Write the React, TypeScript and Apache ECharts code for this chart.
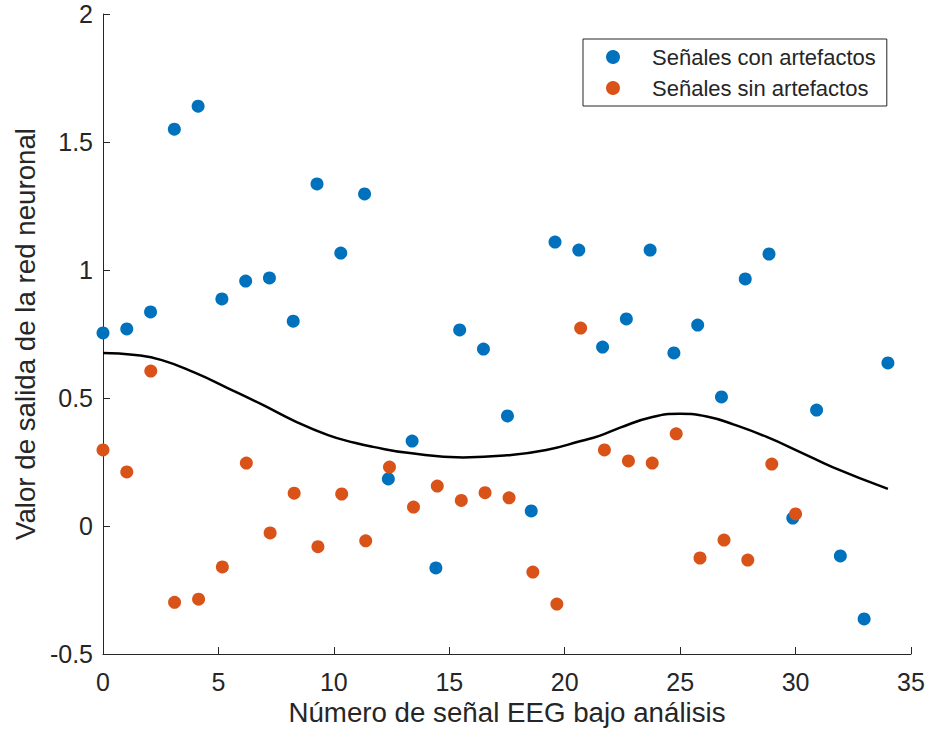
import React, { useEffect, useRef } from "react";
import * as echarts from "echarts";

const seriesNames = ["Señales con artefactos", "Señales sin artefactos"];

const blueX = [0, 1.03, 2.06, 3.09, 4.12, 5.15, 6.18, 7.21, 8.24, 9.27, 10.3, 11.33, 12.36, 13.39, 14.42, 15.45, 16.48, 17.52, 18.55, 19.58, 20.61, 21.64, 22.67, 23.7, 24.73, 25.76, 26.79, 27.82, 28.85, 29.88, 30.91, 31.94, 32.97, 34];
const blueY = [0.754, 0.77, 0.836, 1.55, 1.64, 0.887, 0.957, 0.969, 0.8, 1.336, 1.066, 1.297, 0.184, 0.332, -0.164, 0.766, 0.691, 0.43, 0.059, 1.109, 1.078, 0.699, 0.809, 1.078, 0.676, 0.785, 0.504, 0.965, 1.0625, 0.031, 0.453, -0.117, -0.363, 0.637];

const redX = [0, 1.03, 2.07, 3.1, 4.14, 5.17, 6.21, 7.24, 8.28, 9.31, 10.34, 11.38, 12.41, 13.45, 14.48, 15.52, 16.55, 17.59, 18.62, 19.66, 20.69, 21.72, 22.76, 23.79, 24.83, 25.86, 26.9, 27.93, 28.97, 30];
const redY = [0.297, 0.211, 0.605, -0.298, -0.286, -0.16, 0.246, -0.027, 0.128, -0.081, 0.125, -0.058, 0.23, 0.074, 0.156, 0.1, 0.13, 0.11, -0.18, -0.305, 0.773, 0.297, 0.254, 0.246, 0.36, -0.125, -0.055, -0.133, 0.242, 0.047];

const curveX = [0, 1.4, 2.55, 4, 5.4, 6.9, 8.3, 9.75, 10.9, 11.7, 13.2, 15.6, 17.5, 19.2, 20.7, 21.5, 22.4, 23.8, 25, 26.2, 27.3, 28.75, 30.2, 31.6, 34];
const curveY = [0.676, 0.668, 0.648, 0.598, 0.539, 0.474, 0.41, 0.355, 0.325, 0.309, 0.286, 0.268, 0.276, 0.297, 0.332, 0.352, 0.384, 0.426, 0.438, 0.427, 0.397, 0.348, 0.289, 0.23, 0.145];

const xTitle = "Número de señal EEG bajo análisis";
const yTitle = "Valor de salida de la red neuronal";

const FONT = "'Liberation Sans', Arial, Helvetica, sans-serif";
const TXT = "#262626";

export default function App() {
  const ref = useRef<HTMLDivElement>(null);
  useEffect(() => {
    if (!ref.current) return;
    const chart = echarts.init(ref.current, null, { renderer: "svg" });
    const zip = (xs: number[], ys: number[]) => xs.map((x, i) => [x, ys[i]]);
    chart.setOption({
      animation: false,
      backgroundColor: "#ffffff",
      textStyle: { fontFamily: FONT },
      grid: { left: 103, right: 18, top: 14, bottom: 81, containLabel: false },
      legend: {
        data: seriesNames,
        orient: "vertical",
        left: 583,
        top: 39,
        icon: "circle",
        itemWidth: 14,
        itemHeight: 14,
        itemGap: 9,
        padding: [7, 11, 7, 23],
        borderColor: "#262626",
        borderWidth: 1,
        textStyle: { fontFamily: FONT, fontSize: 22, color: TXT, lineHeight: 22, padding: [0, 0, 0, 27] },
      },
      xAxis: {
        type: "value",
        min: 0,
        max: 35,
        interval: 5,
        name: xTitle,
        nameLocation: "middle",
        nameGap: 43,
        nameTextStyle: { fontFamily: FONT, fontSize: 27.7, color: TXT },
        axisLine: { onZero: false, lineStyle: { color: TXT, width: 1 } },
        axisTick: { inside: true, length: 7, lineStyle: { color: TXT } },
        axisLabel: { margin: 15, fontFamily: FONT, fontSize: 25, color: TXT },
        splitLine: { show: false },
      },
      yAxis: {
        type: "value",
        min: -0.5,
        max: 2,
        interval: 0.5,
        name: yTitle,
        nameLocation: "middle",
        nameGap: 60,
        nameTextStyle: { fontFamily: FONT, fontSize: 27.7, color: TXT },
        axisLine: { onZero: false, lineStyle: { color: TXT, width: 1 } },
        axisTick: { inside: true, length: 7, lineStyle: { color: TXT } },
        axisLabel: { margin: 10, fontFamily: FONT, fontSize: 25, color: TXT },
        splitLine: { show: false },
      },
      series: [
        {
          name: seriesNames[0],
          type: "scatter",
          data: zip(blueX, blueY),
          symbol: "circle",
          symbolSize: 13,
          itemStyle: { color: "#0072BD", opacity: 1 },
        },
        {
          name: seriesNames[1],
          type: "scatter",
          data: zip(redX, redY),
          symbol: "circle",
          symbolSize: 13,
          itemStyle: { color: "#D95319", opacity: 1 },
        },
        {
          name: "curve",
          type: "line",
          data: zip(curveX, curveY),
          smooth: 0.5,
          showSymbol: false,
          lineStyle: { color: "#000000", width: 2.5 },
          z: 3,
        },
      ],
    });
    return () => chart.dispose();
  }, []);
  return (
    <div
      ref={ref}
      style={{ position: "absolute", left: 0, top: 0, width: 929, height: 735, background: "#fff" }}
    />
  );
}
